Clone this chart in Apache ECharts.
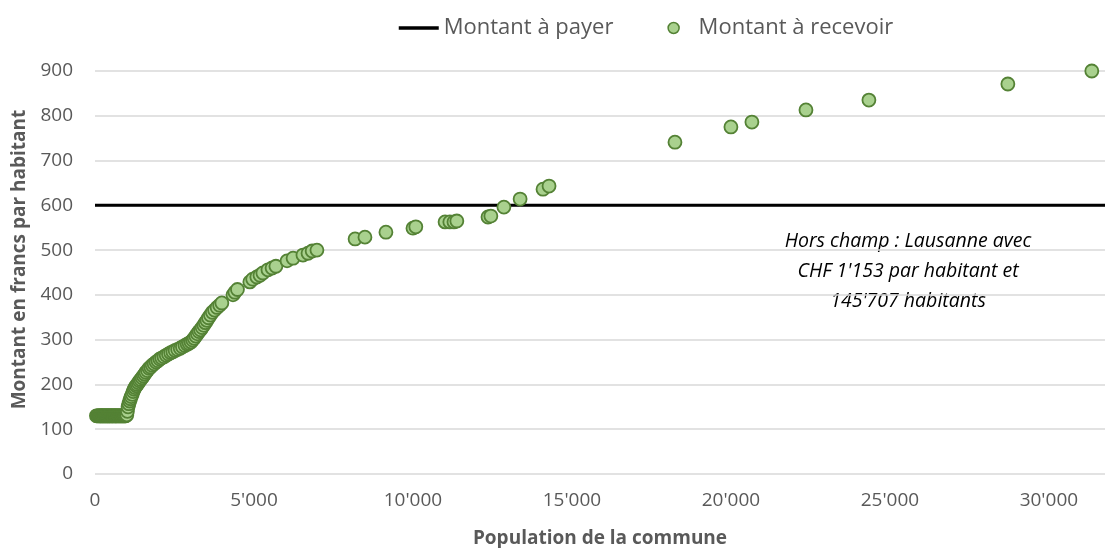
<!DOCTYPE html>
<html>
<head>
<meta charset="utf-8">
<script src="https://cdn.jsdelivr.net/npm/echarts@6/dist/echarts.min.js"></script>
<style>
  html, body { margin: 0; padding: 0; background: #fff; }
  #chart { width: 1107px; height: 548px; }
</style>
</head>
<body>
<div id="chart"></div>
<script>
// population of each commune (x) and amount per inhabitant (y)
const population = [
  45, 70, 95, 120, 140, 160, 175, 190, 210, 230, 245, 260, 280, 300, 315, 330, 350, 370, 385, 400,
  420, 440, 455, 470, 490, 510, 530, 545, 560, 580, 600, 620, 640, 655, 670, 690, 710, 730, 750, 770,
  790, 810, 830, 850, 870, 890, 910, 930, 950, 970,
  1000, 1020, 1040, 1065, 1090, 1115, 1140, 1170, 1200, 1230, 1260, 1295, 1330, 1365, 1400, 1440,
  1480, 1520, 1560, 1600, 1650, 1700, 1750, 1800, 1860, 1920, 1980, 2040, 2100, 2170, 2240, 2310,
  2380, 2450, 2520, 2600, 2680, 2750, 2830, 2900, 2960, 3020, 3070, 3120, 3170, 3220, 3270, 3320,
  3370, 3420, 3470, 3520, 3570, 3630, 3690, 3760, 3840, 3920, 3990,
  4340, 4400, 4480, 4870, 4960, 5090, 5190, 5280, 5440, 5570, 5690, 6040, 6230, 6540, 6700, 6830, 6980,
  8180, 8490, 9150, 10000, 10090, 11010, 11160, 11290, 11380, 12360, 12450, 12860, 13370, 14090, 14280,
  18240, 20000, 20660, 22360, 24340, 28710, 31350
];
const amountReceived = [
  130, 130, 130, 130, 130, 130, 130, 130, 130, 130, 130, 130, 130, 130, 130, 130, 130, 130, 130, 130,
  130, 130, 130, 130, 130, 130, 130, 130, 130, 130, 130, 130, 130, 130, 130, 130, 130, 130, 130, 130,
  130, 130, 130, 130, 130, 130, 130, 130, 130, 130,
  132, 140, 150, 157, 163, 168, 173, 178, 184, 189, 193, 197, 200, 204, 208, 211,
  215, 219, 223, 227, 231, 236, 239, 243, 246, 250, 253, 257, 259, 262, 265, 268,
  271, 273, 276, 278, 281, 284, 287, 290, 292, 295, 299, 303, 308, 313, 318, 322,
  327, 332, 338, 343, 349, 355, 361, 366, 372, 377, 382,
  400, 406, 412, 429, 435, 440, 444, 449, 456, 460, 464, 476, 482, 489, 493, 498, 500,
  525, 529, 540, 549, 552, 563, 563, 563, 565, 574, 576, 596, 614, 636, 643,
  741, 775, 786, 813, 835, 871, 900
];
const amountToPay = 600;
const xMax = 31765;
const yTicks = [0, 100, 200, 300, 400, 500, 600, 700, 800, 900];

const scatterData = population.map((p, i) => [p, amountReceived[i]]);
const font = '"Open Sans", sans-serif';
const grey = '#595959';

function fmtThousands(v) {
  return String(v).replace(/\B(?=(\d{3})+(?!\d))/g, "'");
}

const option = {
  animation: false,
  textStyle: { fontFamily: font },
  grid: { left: 95, right: 2, top: 71, bottom: 74, outerBoundsMode: 'none', containLabel: false },
  legend: {
    left: 392,
    top: 12,
    itemWidth: 40,
    itemHeight: 11,
    itemGap: 54,
    textStyle: { fontSize: 22, color: grey, fontFamily: font },
    data: [
      { name: 'Montant à payer', itemStyle: { opacity: 0 }, lineStyle: { width: 3.5, color: '#000' } },
      { name: 'Montant à recevoir', icon: 'circle', itemStyle: { color: '#a9d18e', borderColor: '#548235', borderWidth: 1.5 } }
    ]
  },
  xAxis: {
    type: 'value',
    min: 0,
    max: xMax,
    interval: 5000,
    name: 'Population de la commune',
    nameLocation: 'middle',
    nameGap: 55,
    nameTextStyle: { fontSize: 19, fontWeight: 'bold', color: grey, fontFamily: font },
    axisLine: { show: false },
    axisTick: { show: false },
    splitLine: { show: false },
    axisLabel: {
      fontSize: 19, color: grey, margin: 17, showMaxLabel: false,
      formatter: v => fmtThousands(v)
    }
  },
  yAxis: {
    type: 'value',
    min: yTicks[0],
    max: yTicks[yTicks.length - 1],
    interval: 100,
    name: 'Montant en francs par habitant',
    nameLocation: 'middle',
    nameGap: 66,
    nameTextStyle: { fontSize: 19, fontWeight: 'bold', color: grey, fontFamily: font, padding: [0, 0, 0, 26] },
    axisLine: { show: false },
    axisTick: { show: false },
    axisLabel: { fontSize: 19, color: grey, margin: 22 },
    splitLine: { lineStyle: { color: '#d9d9d9', width: 1.5 } }
  },
  series: [
    {
      name: 'Montant à payer',
      type: 'line',
      symbol: 'none',
      data: [[0, amountToPay], [xMax, amountToPay]],
      lineStyle: { color: '#000', width: 3 },
      itemStyle: { color: '#000' },
      z: 3
    },
    {
      name: 'Montant à recevoir',
      type: 'scatter',
      symbolSize: 13,
      data: scatterData,
      itemStyle: { color: '#a9d18e', borderColor: '#548235', borderWidth: 1.8, opacity: 1 },
      z: 4
    }
  ],
  graphic: [
    {
      type: 'text',
      x: 908,
      y: 226,
      style: {
        text: "Hors champ : Lausanne avec\nCHF 1'153 par habitant et\n145'707 habitants",
        fill: '#000',
        font: 'italic 19.5px ' + font,
        textAlign: 'center',
        lineHeight: 30
      }
    }
  ]
};

const myChart = echarts.init(document.getElementById('chart'));
myChart.setOption(option);
</script>
</body>
</html>
